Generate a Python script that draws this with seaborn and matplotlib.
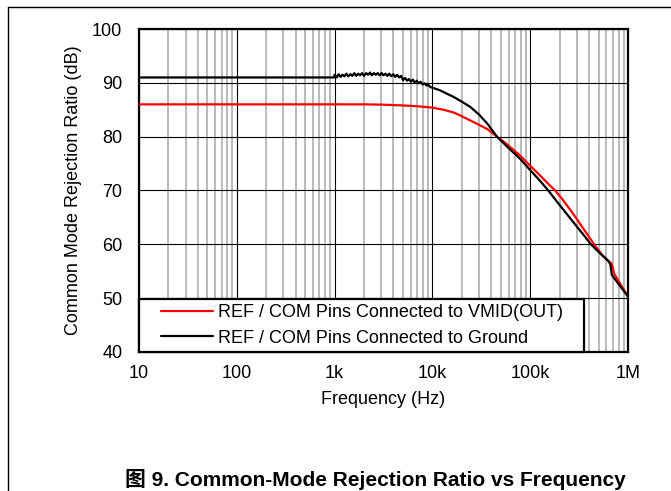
import matplotlib
matplotlib.use("Agg")
import matplotlib.pyplot as plt
import seaborn as sns
from matplotlib.lines import Line2D
from matplotlib.legend_handler import HandlerLine2D
from matplotlib.ticker import LogLocator, FixedLocator, NullFormatter

# CMRR with REF / COM pins connected to VMID(OUT)
freq_vmid = [10, 100, 1000, 2000, 3000, 5000, 7000, 10000, 13000, 16400, 20000,
             24500, 30000, 36500, 45700, 55000, 65000, 78700, 100000, 126000,
             150000, 180000, 215000, 250000, 300000, 350000, 400000, 450000,
             500000, 550000, 630000, 680000, 700000, 725000, 800000, 1000000]
cmrr_vmid = [86, 86, 86, 86, 85.95, 85.8, 85.65, 85.4, 85.0, 84.5, 83.8,
             83.0, 82.2, 81.4, 80.0, 78.9, 77.8, 76.5, 74.6, 72.8,
             71.4, 70.0, 68.3, 66.7, 64.7, 62.9, 61.4, 60.0,
             58.9, 57.9, 56.9, 56.4, 55.6, 54.5, 53.2, 50.3]

# CMRR with REF / COM pins connected to ground (noisy between 1k and 10k)
freq_gnd = [10, 100, 990,
            1000, 1050, 1100, 1150, 1200, 1260, 1320, 1380, 1450, 1520,
            1590, 1660, 1740, 1820, 1910, 2000, 2100, 2200, 2300, 2400,
            2520, 2640, 2760, 2890, 3020, 3160, 3310, 3470, 3630, 3800,
            3980, 4170, 4370, 4570, 4790, 5010, 5250, 5500, 5750, 6030,
            6310, 6610, 6920, 7240, 7590, 7940, 8320, 8710, 9120, 9550,
            10000, 12000, 14000, 16400, 20000, 24500, 30000, 36500, 45700,
            60000, 78700, 100000, 126000, 153000, 200000, 250000, 300000,
            350000, 418000, 500000, 630000, 660000, 683000, 1000000]
cmrr_gnd = [91, 91, 91,
            91.5, 91.0, 91.6, 91.1, 91.5, 91.2, 91.7, 91.2, 91.6, 91.3,
            91.8, 91.3, 91.7, 91.4, 91.8, 91.3, 91.8, 91.5, 91.9, 91.4,
            91.8, 91.5, 91.8, 91.4, 91.8, 91.4, 91.7, 91.3, 91.7, 91.2,
            91.6, 91.1, 91.5, 91.0, 91.3, 90.5, 90.9, 90.4, 90.7, 90.2,
            90.6, 90.0, 90.4, 89.9, 90.2, 89.7, 89.9, 89.5, 89.6, 89.2,
            89.1, 88.6, 88.0, 87.4, 86.5, 85.5, 84.1, 82.4, 80.0,
            77.9, 75.9, 73.8, 71.8, 70.0, 67.3, 65.1, 63.3,
            61.8, 60.0, 58.6, 56.9, 56.3, 54.3, 50.3]

label_vmid = "REF / COM Pins Connected to VMID(OUT)"
label_gnd = "REF / COM Pins Connected to Ground"
x_ticks = [10, 100, 1000, 10000, 100000, 1000000]
x_ticklabels = ["10", "100", "1k", "10k", "100k", "1M"]
y_ticks = [40, 50, 60, 70, 80, 90, 100]

sns.set_theme(style="white")
plt.rcParams['font.family'] = ['Liberation Sans', 'Noto Sans CJK SC']
plt.rcParams['text.color'] = 'black'
plt.rcParams['axes.labelcolor'] = 'black'

fig = plt.figure(figsize=(6.71, 4.91), dpi=100)
ax = fig.add_axes([139 / 671, 1 - 352 / 491, 489 / 671, 323 / 491])

sns.lineplot(x=freq_vmid, y=cmrr_vmid, color="#ff0000", linewidth=1.6,
             label=label_vmid, ax=ax, zorder=3)
sns.lineplot(x=freq_gnd, y=cmrr_gnd, color="black", linewidth=1.6,
             label=label_gnd, ax=ax, zorder=4)

ax.set_xscale("log")
ax.set_xlim(10, 1e6)
ax.set_ylim(40, 100)
ax.xaxis.set_major_locator(FixedLocator(x_ticks))
ax.set_xticklabels(x_ticklabels)
ax.xaxis.set_minor_locator(LogLocator(base=10, subs=range(2, 10)))
ax.xaxis.set_minor_formatter(NullFormatter())
ax.set_yticks(y_ticks)

ax.grid(which="minor", axis="x", color="#b4b4b4", linewidth=1.3)
ax.grid(which="major", axis="both", color="black", linewidth=0.8)
ax.set_axisbelow(True)
ax.tick_params(which="both", length=0, labelsize=13, colors="black")
ax.tick_params(axis="y", pad=12)
ax.tick_params(axis="x", pad=9)
for s in ax.spines.values():
    s.set_color("black")
    s.set_linewidth(1.6)

ax.set_xlabel("Frequency (Hz)", fontsize=13, labelpad=7)
ax.set_ylabel("Common Mode Rejection Ratio (dB)", fontsize=13, labelpad=7)

leg = ax.legend([ax.lines[0], ax.lines[1]], [label_vmid + "   ", label_gnd],
                loc="lower left", bbox_to_anchor=(0, 0), borderaxespad=0,
                fontsize=13, frameon=True, fancybox=False, framealpha=1,
                edgecolor="black", borderpad=0.3, labelspacing=0.45,
                handlelength=3.8, handletextpad=0.28, labelcolor="black",
                handler_map={Line2D: HandlerLine2D(xpad=0.9)})
leg.get_frame().set_linewidth(1.6)
leg.set_zorder(10)

# outer frame lines of the figure cell
fig.add_artist(Line2D([7.5 / 671, 1], [1 - 6.5 / 491, 1 - 6.5 / 491],
                      color="black", linewidth=1.0, transform=fig.transFigure))
fig.add_artist(Line2D([7.5 / 671, 7.5 / 671], [0, 1 - 6.5 / 491],
                      color="black", linewidth=1.0, transform=fig.transFigure))

fig.text(375 / 671, 1 - 480 / 491, "图 9. Common-Mode Rejection Ratio vs Frequency",
         ha="center", va="center", fontsize=15, fontweight="bold", color="black",
         family=['Liberation Sans', 'Noto Sans CJK SC'])

fig.savefig("out.png", dpi=100)
